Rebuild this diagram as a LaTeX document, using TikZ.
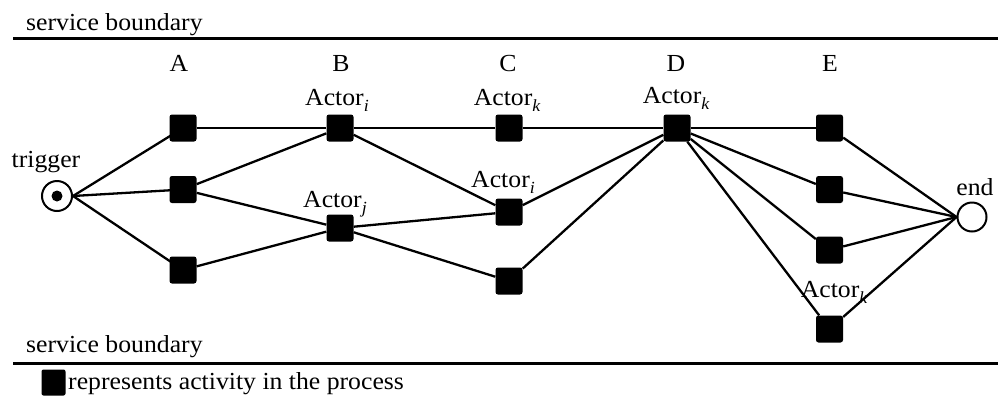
\documentclass[tikz,border=0pt]{standalone}
\usepackage{fontspec}
\setmainfont{Liberation Serif}[FakeStretch=1.05]
\newcommand{\mysub}[1]{\raisebox{-0.28em}{\fontsize{17}{20}\selectfont\itshape #1}}
\begin{document}
\begin{tikzpicture}[x=1pt,y=-1pt,
  act/.style={fill=black,draw=none,minimum size=27pt,inner sep=0pt,rounded corners=2.5pt},
  edge/.style={line width=2.3pt},
  lbl/.style={anchor=base,inner sep=0pt,font=\fontsize{24.5}{29}\selectfont},
  bound/.style={line width=3pt}]
\useasboundingbox (0,0) rectangle (998,397);
% boundaries
\coordinate (tl) at (13,38); \coordinate (tr) at (998,38);
\coordinate (bl) at (13,363); \coordinate (br) at (998,363);
\draw[bound] (tl) -- (tr);
\draw[bound] (bl) -- (br);
\node[lbl,anchor=base west] (sbt) at (26,30) {service boundary};
\node[lbl,anchor=base west] (sbb) at (26,352) {service boundary};
% column labels
\node[lbl] (la) at (179,71) {A};
\node[lbl] (lb) at (341,71) {B};
\node[lbl] (lc) at (508,71) {C};
\node[lbl] (ld) at (676,71) {D};
\node[lbl] (le) at (830,71) {E};
% activities
\node[act] (a1) at (183,128) {};
\node[act] (a2) at (183,189.5) {};
\node[act] (a3) at (183,270) {};
\node[act] (b1) at (340,128) {};
\node[act] (b2) at (340,228) {};
\node[act] (c1) at (509,128) {};
\node[act] (c2) at (509,212) {};
\node[act] (c3) at (509,281) {};
\node[act] (d) at (677,128) {};
\node[act] (e1) at (829.5,128) {};
\node[act] (e2) at (829.5,189.5) {};
\node[act] (e3) at (829.5,250) {};
\node[act] (e4) at (829.5,329) {};
% trigger and end
\node[circle,draw,line width=2pt,minimum size=30pt,inner sep=0pt,fill=white] (trig) at (57,196) {};
\node[circle,fill=black,minimum size=11pt,inner sep=0pt] (tdot) at (trig.center) {};
\node[circle,draw,line width=2pt,minimum size=29pt,inner sep=0pt,fill=white] (fin) at (972,217) {};
\node[lbl] (ltrig) at (46,167) {trigger};
\node[lbl] (lend) at (975,195) {end};
% actor labels
\node[lbl] (ab1) at (337,105) {Actor\mysub{i}};
\node[lbl] (ac1) at (507,105) {Actor\mysub{k}};
\node[lbl] (ac2) at (503,187) {Actor\mysub{i}};
\node[lbl] (ab2) at (335,207) {Actor\mysub{j}};
\node[lbl] (ad) at (676,103) {Actor\mysub{k}};
\node[lbl] (ae4) at (834,297) {Actor\mysub{k}};
% edges
\draw[edge] (trig.east) -- (a1.center);
\draw[edge] (trig.east) -- (a2.center);
\draw[edge] (trig.east) -- (a3.center);
\draw[edge] (a1) -- (b1);
\draw[edge] (a2) -- (b1);
\draw[edge] (a2) -- (b2);
\draw[edge] (a3) -- (b2);
\draw[edge] (b1) -- (c1);
\draw[edge] (b1) -- (c2);
\draw[edge] (b2) -- (c2);
\draw[edge] (b2) -- (c3);
\draw[edge] (c1) -- (d);
\draw[edge] (c2) -- (d);
\draw[edge] (c3) -- (d);
\draw[edge] (d) -- (e1);
\draw[edge] (d) -- (e2);
\draw[edge] (d) -- (e3);
\draw[edge] (d) -- (e4);
\draw[edge] (e1) -- (fin.west);
\draw[edge] (e2) -- (fin.west);
\draw[edge] (e3) -- (fin.west);
\draw[edge] (e4) -- (fin.west);
% legend
\node[fill=black,minimum width=24pt,minimum height=26pt,inner sep=0pt,rounded corners=2pt] (leg) at (53.5,382.5) {};
\node[lbl,anchor=base west] (legt) at (68,389) {represents activity in the process};
\end{tikzpicture}
\end{document}
